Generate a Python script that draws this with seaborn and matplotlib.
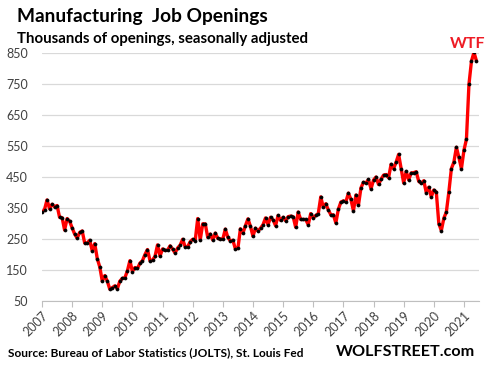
import numpy as np
import pandas as pd
import matplotlib
matplotlib.use("Agg")
import matplotlib.pyplot as plt
import seaborn as sns

# Monthly manufacturing job openings (thousands), Jan 2007 .. Jun 2021
v2007 = [336, 345, 376, 348, 362, 354, 358, 320, 319, 279, 316, 307]
v2008 = [286, 266, 253, 271, 276, 237, 237, 246, 212, 235, 187, 160]
v2009 = [114, 132, 114, 88, 93, 99, 90, 114, 123, 125, 147, 180]
v2010 = [145, 158, 155, 172, 180, 200, 216, 180, 182, 194, 231, 195]
v2011 = [218, 213, 214, 228, 217, 205, 221, 230, 249, 225, 225, 241]
v2012 = [249, 245, 316, 247, 299, 299, 255, 266, 247, 269, 252, 250]
v2013 = [250, 282, 255, 244, 246, 218, 220, 283, 269, 293, 315, 291]
v2014 = [259, 285, 276, 285, 296, 318, 296, 320, 312, 293, 326, 310]
v2015 = [320, 309, 322, 324, 322, 288, 337, 313, 313, 313, 296, 332]
v2016 = [318, 326, 332, 386, 352, 364, 344, 328, 328, 302, 346, 369]
v2017 = [373, 370, 398, 378, 341, 392, 359, 415, 433, 431, 442, 412]
v2018 = [440, 450, 426, 443, 456, 458, 448, 491, 477, 498, 523, 477]
v2019 = [431, 468, 441, 463, 464, 467, 436, 430, 438, 400, 417, 386]
v2020 = [408, 401, 300, 277, 317, 337, 402, 477, 498, 546, 513, 477]
v2021 = [536, 572, 749, 824, 852, 824]

years = list(range(2007, 2022))
yticks = [50, 150, 250, 350, 450, 550, 650, 750, 850]

values = (v2007 + v2008 + v2009 + v2010 + v2011 + v2012 + v2013 + v2014 +
          v2015 + v2016 + v2017 + v2018 + v2019 + v2020 + v2021)
t = 2007 + np.arange(len(values)) / 12.0
df = pd.DataFrame({"t": t, "openings": values})

sns.set_theme(style="white")
plt.rcParams['font.family'] = ['Lato', 'DejaVu Sans']

fig = plt.figure(figsize=(4.88, 3.69), dpi=100)
ax = fig.add_axes([42/488, 1-301/369, (479-42)/488, (301-53)/369])

sns.lineplot(data=df, x="t", y="openings", ax=ax, color="#ff0000",
             linewidth=2.4, marker="o", markersize=2.2,
             markerfacecolor="black", markeredgecolor="black",
             markeredgewidth=0.5, zorder=3)

ax.set_xlim(2007, 2007 + 174/12)
ax.set_ylim(50, 850)
ax.set_yticks(yticks)
ax.set_yticklabels([str(y) for y in yticks], fontsize=9, color="#404040")
ax.set_xticks(years)
ax.set_xticklabels([str(y) for y in years], rotation=45, ha="right",
                   rotation_mode="anchor", fontsize=9, color="#404040")
ax.tick_params(axis="y", length=0, pad=10)
ax.tick_params(axis="x", length=4, width=0.8, color="#bfbfbf",
               direction="out", bottom=True, pad=2)
ax.set_xlabel("")
ax.set_ylabel("")
for s in ["top", "right", "left"]:
    ax.spines[s].set_visible(False)
ax.spines["bottom"].set_color("#bfbfbf")
ax.spines["bottom"].set_linewidth(0.8)
ax.grid(axis="y", color="#d9d9d9", linewidth=0.9)
ax.grid(axis="x", visible=False)
ax.set_axisbelow(True)
ax.patch.set_alpha(0)

fig.text(17/488, 1-22/369, "Manufacturing  Job Openings", fontsize=13.8,
         fontweight="bold", color="black", va="baseline", ha="left")
fig.text(17/488, 1-43/369, "Thousands of openings, seasonally adjusted",
         fontsize=10.8, fontweight="bold", color="black", va="baseline", ha="left")
fig.text(468/488, 1-48/369, "WTF", fontsize=11.5, fontweight="bold",
         color="#ee1c25", va="baseline", ha="center")
fig.text(8/488, 1-356/369, "Source: Bureau of Labor Statistics (JOLTS), St. Louis Fed",
         fontsize=8.6, fontweight="bold", color="black", va="baseline", ha="left")
fig.text(475/488, 1-356/369, "WOLFSTREET.com", fontsize=11.6,
         fontweight="bold", color="black", va="baseline", ha="right")

fig.savefig("out.png", dpi=100)
